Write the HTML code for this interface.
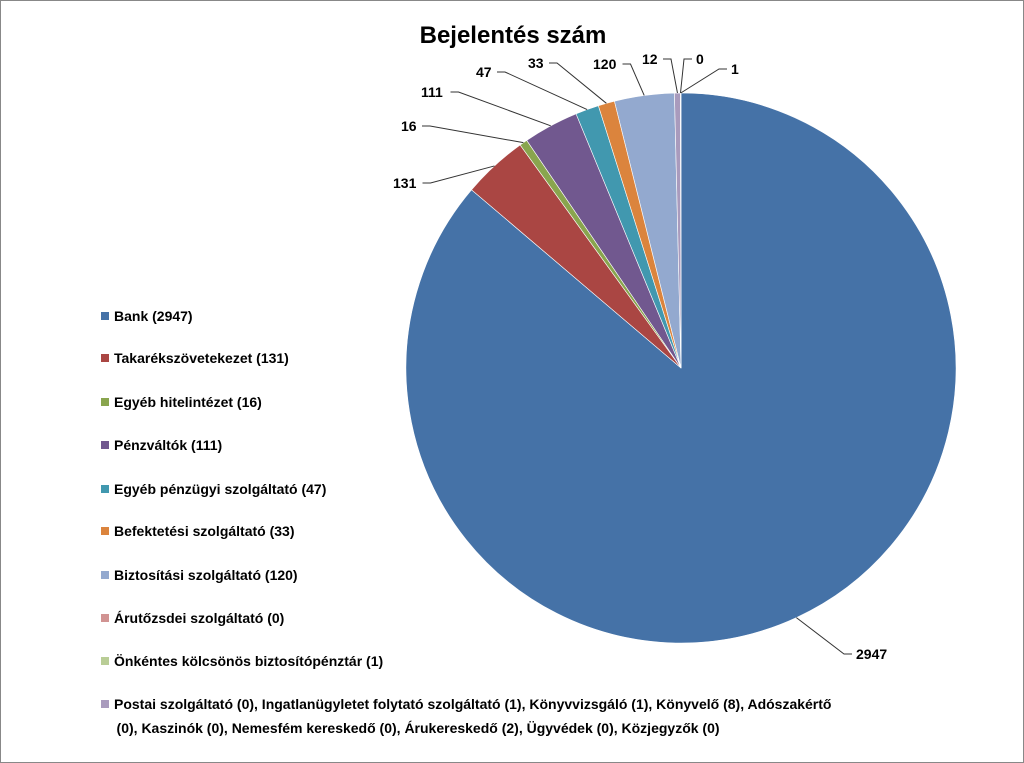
<!DOCTYPE html>
<html><head><meta charset="utf-8"><style>
body{margin:0;background:#fff}
#c{position:relative;width:1022px;height:761px;border:1px solid #888;overflow:hidden;font-family:"Liberation Sans",sans-serif}
.lg{position:absolute;left:100px;font-size:14px;font-weight:bold;color:#000;line-height:24px}
.lg i{display:inline-block;width:8px;height:8px;margin-right:5px;vertical-align:1px}
</style></head><body>
<div id="c">
<svg width="1022" height="761" style="position:absolute;left:0;top:0" id="svg">
<text x="512" y="42" text-anchor="middle" font-size="24" font-weight="bold" font-family="Liberation Sans, sans-serif">Bejelentés szám</text>
<g id="slices"></g><g id="labels"></g>
</svg>
<div id="legend"></div>
</div>
<script>
const sliceNames=["Bank","Takarékszövetkezet","Egyéb hitelintézet","Pénzváltók","Egyéb pénzügyi szolgáltató","Befektetési szolgáltató","Biztosítási szolgáltató","Postai stb.","Árutőzsdei szolgáltató","Önkéntes kölcsönös biztosítópénztár"];
const sliceValues=[2947,131,16,111,47,33,120,12,0,1];
const colors=["#4572A7","#AA4643","#89A54E","#71588F","#4198AF","#DB843D","#93A9CF","#A99BBD","#D19392","#B9CD96"];
const labelPos=[[855,658],[392,187],[400,130],[420,96],[475,76],[527,67],[592,68],[641,63],[695,63],[730,73]];
const legendItems=["Bank (2947)","Takarékszövetekezet (131)","Egyéb hitelintézet (16)","Pénzváltók (111)","Egyéb pénzügyi szolgáltató (47)","Befektetési szolgáltató (33)","Biztosítási szolgáltató (120)","Árutőzsdei szolgáltató (0)","Önkéntes kölcsönös biztosítópénztár (1)","Postai szolgáltató (0), Ingatlanügyletet folytató szolgáltató (1), Könyvvizsgáló (1), Könyvelő (8), Adószakértő<br>&nbsp;&nbsp;&nbsp;&nbsp;(0), Kaszinók (0), Nemesfém kereskedő (0), Árukereskedő (2), Ügyvédek (0), Közjegyzők (0)"];
const legendColors=["#4572A7","#AA4643","#89A54E","#71588F","#4198AF","#DB843D","#93A9CF","#D19392","#B9CD96","#A99BBD"];
const cx=680,cy=367,r=275,NS="http://www.w3.org/2000/svg";
const total=sliceValues.reduce((a,b)=>a+b,0);
const pt=(a,rr)=>[cx+rr*Math.sin(a),cy-rr*Math.cos(a)];
let a0=0;const sg=document.getElementById('slices'),lg=document.getElementById('labels');
sliceValues.forEach((v,i)=>{
  const a1=a0+v/total*2*Math.PI;
  const p0=pt(a0,r),p1=pt(a1,r);
  const p=document.createElementNS(NS,'path');
  p.setAttribute('d',`M${cx},${cy}L${p0[0]},${p0[1]}A${r},${r} 0 ${a1-a0>Math.PI?1:0} 1 ${p1[0]},${p1[1]}Z`);
  p.setAttribute('fill',colors[i]);p.setAttribute('stroke','#fff');p.setAttribute('stroke-width','0.6');
  
  
  sg.appendChild(p);
  const m=pt((a0+a1)/2,r),lp=labelPos[i];
  const right=lp[0]>m[0];
  const ex=right?lp[0]-4:lp[0]+ (String(v).length*8.5)+4;
  const l=document.createElementNS(NS,'polyline');
  l.setAttribute('points',`${m[0]},${m[1]} ${ex+(right?-8:8)},${lp[1]-5} ${ex},${lp[1]-5}`);
  l.setAttribute('fill','none');l.setAttribute('stroke','#333');l.setAttribute('stroke-width','1');
  
  
  lg.appendChild(l);
  const t=document.createElementNS(NS,'text');
  t.setAttribute('x',lp[0]);t.setAttribute('y',lp[1]);t.setAttribute('font-size','14');t.setAttribute('font-weight','bold');
  t.setAttribute('font-family','Liberation Sans, sans-serif');t.textContent=v;
  
  
  lg.appendChild(t);
  a0=a1;
});
const ys=[303,345,389,432,476,518,562,605,648,691];
const L=document.getElementById('legend');
legendItems.forEach((s,i)=>{
  const d=document.createElement('div');d.className='lg';d.style.top=ys[i]+'px';
  d.innerHTML='<i style="background:'+legendColors[i]+'"></i>'+s;
  
  
  L.appendChild(d);
});
</script>
</body></html>
